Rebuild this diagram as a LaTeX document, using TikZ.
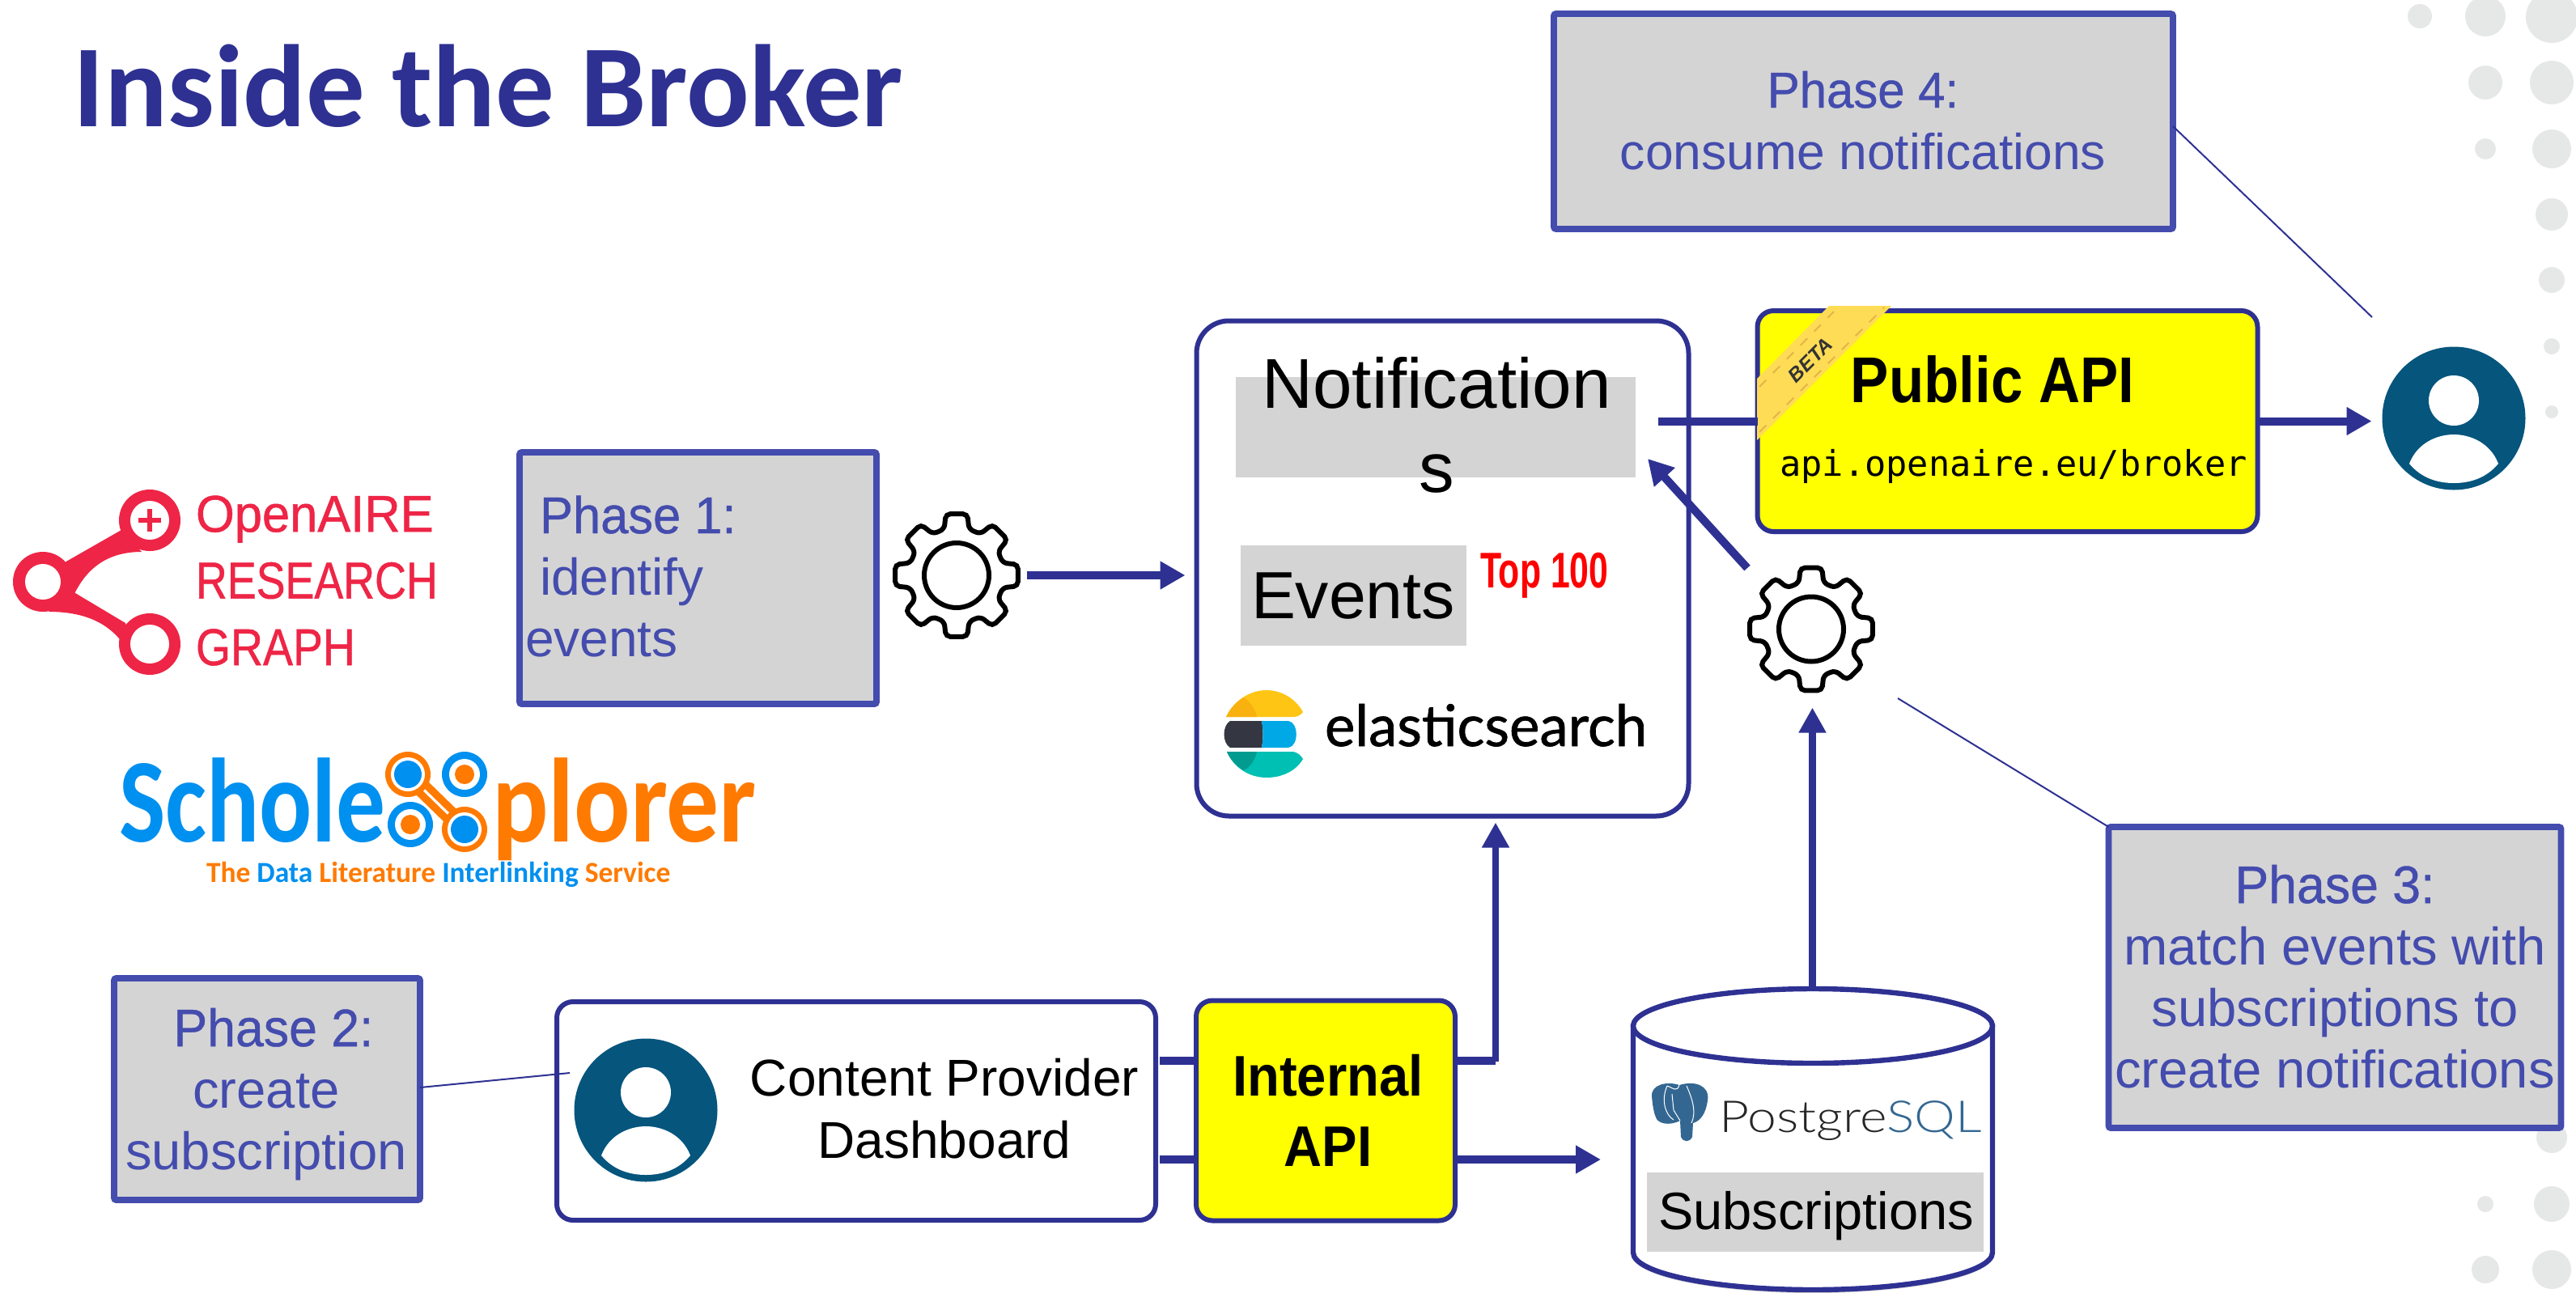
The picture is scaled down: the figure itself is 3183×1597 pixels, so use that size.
\documentclass[tikz,border=0pt]{standalone}
\usepackage{fontspec}
\setmainfont{Liberation Sans}
\newfontfamily\titlefont{Carlito}
\newfontfamily\apimono{DejaVu Sans Mono}
\newfontfamily\elasticfont[FakeBold=1]{Lato}
\newfontfamily\pgsqlfont{Lato Light}
\newfontfamily\phfont[FakeBold=0.7]{Liberation Sans}
\newfontfamily\oafont[FakeBold=0.8]{Liberation Sans}
\newcommand\phead[1]{{\phfont\scalebox{.96}[1]{#1}}}
\usetikzlibrary{arrows.meta,shadows}
\definecolor{navy}{HTML}{2E3192}
\definecolor{phaseblue}{HTML}{444CAE}
\definecolor{boxgray}{HTML}{D4D4D4}
\definecolor{dotgray}{HTML}{E6E8E7}
\definecolor{userblue}{HTML}{05557D}
\definecolor{oared}{HTML}{EE2546}
\definecolor{sxblue}{HTML}{0090F0}
\definecolor{sxorange}{HTML}{FF7A00}
\definecolor{pgblue}{HTML}{336791}
\definecolor{ribbon}{HTML}{FFDC55}
\definecolor{ribbondash}{HTML}{E2B548}
\definecolor{pureyellow}{HTML}{FFFF00}
\definecolor{purered}{HTML}{FF0000}
\definecolor{esyellow}{HTML}{FEC514}
\definecolor{esorange}{HTML}{F9B110}
\definecolor{esdark}{HTML}{343741}
\definecolor{esblue}{HTML}{00A9E5}
\definecolor{esteal}{HTML}{00BFB3}
\definecolor{esdeep}{HTML}{019B8F}
\tikzset{
  pxsize/.style 2 args={minimum width=#1*.25pt,minimum height=#2*.25pt,inner sep=0,outer sep=0},
  phasebox/.style={draw=phaseblue,fill=boxgray,line width=1.9pt,rounded corners=.6pt},
  softshadow/.style={drop shadow={shadow xshift=0pt,shadow yshift=-.7pt,opacity=.3,fill=black}},
  whitebox/.style={draw=navy,fill=white,line width=1.5pt,softshadow},
  yellowbox/.style={draw=navy,fill=pureyellow,line width=1.5pt,rounded corners=5pt,softshadow},
  graybar/.style={fill=boxgray,inner sep=0,outer sep=0},
  txt/.style={inner sep=0,outer sep=0,anchor=base},
  txtl/.style={inner sep=0,outer sep=0,anchor=base west},
  phasetxt/.style={text=phaseblue,font=\fontsize{16.3}{19}\selectfont},
  conn/.style={draw=navy,line width=2.5pt,-{Triangle[length=7.75pt,width=8.25pt]}},
  connthin/.style={draw=navy,line width=2.1pt,-{Triangle[length=7.75pt,width=8pt]}},
  bar/.style={draw=navy,line width=2.5pt},
  leader/.style={draw=navy,line width=.5pt},
  gearline/.style={draw=black,fill=white,line width=1.5pt,rounded corners=1.4pt},
  dot/.style={fill=dotgray}
}
\newcommand\usericon[3]{%
  \node[circle,fill=userblue,pxsize={177}{177}] (#1) at (#2,#3) {};
  \begin{scope}[shift={(#2,#3)}]
    \fill[white] (0,-22) circle[radius=31];
    \fill[white] (-55,56) .. controls (-45,30) and (-20,20) .. (0,20) .. controls (20,20) and (45,30) .. (55,56)
       .. controls (40,74) and (20,80) .. (0,80) .. controls (-20,80) and (-40,74) .. (-55,56) -- cycle;
  \end{scope}}
\newcommand\gearicon[3]{%
  \node[circle,pxsize={158}{158}] (#1) at (#2,#3) {};
  \begin{scope}[shift={(#2,#3)}]
    \draw[gearline] (-15:59) foreach \a in {0,45,...,270} { -- (\a-10:77) -- (\a+10:77) -- (\a+15:59) -- (\a+30:59) }
      -- (305:77) -- (325:77) -- (330:59) -- cycle;
    \draw[black,line width=1.5pt] (0,0) circle[radius=40];
  \end{scope}}
\begin{document}
\begin{tikzpicture}[x=.25pt,y=-.25pt]
\clip (0,0) rectangle (3183,1597);
\fill[white] (0,0) rectangle (3183,1597);
% background dots
\foreach \px/\py/\r in {3153/21/32,3153/102/27,3153/184/24,3153/265/20,3153/346/16,3153/428/10,3153/509/8,
  3071/20/25,3071/102/21,3071/184/13,2990/20/15,
  3153/1406/19,3153/1488/22,3153/1569/24,3071/1488/10,3071/1569/17}
  \fill[dot] (\px,\py) circle[radius=\r];
% title
\node[txtl,text=navy,font=\titlefont\bfseries\fontsize{36.2}{43}\selectfont] (title) at (91,156) {Inside the Broker};
% OpenAIRE logo
\begin{scope}[oared]
  \fill (80,695) -- (150,655) -- (175,682) .. controls (130,682) and (105,705) .. (90,738) -- cycle;
  \fill (88,730) -- (155,770) -- (172,832) .. controls (155,790) and (130,756) .. (60,756) -- cycle;
  \fill (185,643) circle[radius=38];
  \fill (53,719) circle[radius=37];
  \fill (185,796) circle[radius=38];
  \fill[white] (185,643) circle[radius=24];
  \fill[white] (53,719) circle[radius=22];
  \fill[white] (185,796) circle[radius=24];
  \fill (171,640) rectangle (199,646);
  \fill (182,629) rectangle (188,657);
\end{scope}
\node[txtl,align=left,text=oared,font=\oafont\fontsize{16}{20.6}\selectfont] (oatext) at (242,822)
  {\scalebox{.96}[1]{OpenAIRE}\\\scalebox{.84}[1]{RESEARCH}\\\scalebox{.865}[1]{GRAPH}};
% ScholeXplorer logo
\node[txtl,text=sxblue,font=\titlefont\bfseries\fontsize{37}{44}\selectfont] (sxa) at (147,1040) {\scalebox{.82}[1]{Schole}};
\node[txtl,text=sxorange,font=\titlefont\bfseries\fontsize{37}{44}\selectfont] (sxb) at (608,1040) {\scalebox{.875}[1]{plorer}};
\draw[sxorange,line width=5.5pt,line cap=round] (504,957) -- (574,1025);
\draw[white,line width=.8pt] (504,957) -- (574,1025);
\fill[sxorange] (504,957) circle[radius=28];
\fill[white] (504,957) circle[radius=21];
\fill[sxblue] (504,957) circle[radius=17];
\fill[sxorange] (574,1025) circle[radius=28];
\fill[white] (574,1025) circle[radius=21];
\fill[sxblue] (574,1025) circle[radius=17];
\fill[sxblue] (574,957) circle[radius=28];
\fill[white] (574,957) circle[radius=19];
\fill[sxorange] (574,957) circle[radius=12];
\fill[sxblue] (507,1019) circle[radius=28];
\fill[white] (507,1019) circle[radius=19];
\fill[sxorange] (507,1019) circle[radius=12];
\node[txtl,font=\titlefont\bfseries\fontsize{9}{11}\selectfont] (sxtag) at (255,1090)
  {\scalebox{.985}[1]{\textcolor{sxorange}{The }\textcolor{sxblue}{Data }\textcolor{sxorange}{Literature }\textcolor{sxblue}{Interlinking }\textcolor{sxorange}{Service}}};
% phase boxes
\node[phasebox,pxsize={441}{311}] (p1) at (862.5,714.5) {};
\node[txtl,align=left,phasetxt,font=\fontsize{16}{19}\selectfont] (p1t) at (649,811) {\hspace*{4.5pt}\phead{Phase 1:}\\\hspace*{4.5pt}identify\\events};
\node[phasebox,pxsize={378}{274}] (p2) at (330,1346) {};
\node[txt,align=center,phasetxt] (p2t) at (329,1445) {\hspace*{4.5pt}\phead{Phase 2:}\\create\\subscription};
\node[phasebox,pxsize={559}{372}] (p3) at (2885,1208) {};
\node[txt,align=center,phasetxt] (p3t) at (2885,1344) {\phead{Phase 3:}\\match events with\\subscriptions to\\create notifications};
\node[phasebox,pxsize={765}{266}] (p4) at (2302.5,150) {};
\node[txt,align=center,phasetxt,font=\fontsize{15.6}{19}\selectfont] (p4t) at (2302,209) {\phead{Phase 4:}\\consume notifications};
% notifications container
\node[whitebox,rounded corners=10pt,pxsize={608}{612}] (store) at (1782.5,702.5) {};
\node[graybar,pxsize={494}{124}] (ngray) at (1774,528) {};
\node[txt,align=center,font=\fontsize{21.8}{26}\selectfont] (ntext) at (1775,608) {Notification\\s};
\node[graybar,pxsize={279}{124}] (egray) at (1672.5,736) {};
\node[txtl,font=\fontsize{20.6}{25}\selectfont] (etext) at (1546,764) {Events};
\node[txtl,text=purered,font=\bfseries\fontsize{15.5}{18}\selectfont] (top) at (1829,726) {\scalebox{.69}[1]{Top 100}};
% elasticsearch logo
\fill[esyellow] (1515,886) .. controls (1525,865) and (1545,853) .. (1565,853) .. controls (1585,853) and (1602,865) .. (1610,880) .. controls (1607,884) and (1603,886) .. (1598,886) -- cycle;
\fill[esorange] (1515,886) .. controls (1520,875) and (1528,867) .. (1537,862) .. controls (1546,868) and (1551,877) .. (1553,886) -- cycle;
\fill[esdark] (1520,891) -- (1559,891) .. controls (1561,901) and (1561,914) .. (1559,924) -- (1520,924) .. controls (1510,918) and (1510,897) .. (1520,891) -- cycle;
\fill[esblue] (1559,891) -- (1592,891) .. controls (1605,893) and (1605,922) .. (1592,924) -- (1559,924) .. controls (1561,914) and (1561,901) .. (1559,891) -- cycle;
\fill[esteal] (1516,929) -- (1598,929) .. controls (1603,930) and (1607,933) .. (1610,938) .. controls (1602,952) and (1585,961) .. (1565,961) .. controls (1545,961) and (1525,950) .. (1516,929) -- cycle;
\fill[esdeep] (1516,929) -- (1553,929) .. controls (1551,938) and (1546,947) .. (1537,952) .. controls (1528,947) and (1520,939) .. (1516,929) -- cycle;
\node[txtl,font=\elasticfont\fontsize{17.7}{21}\selectfont] (elastic) at (1637,922) {elasticsearch};
% public API
\node[yellowbox,pxsize={618}{273}] (pub) at (2480.5,520.5) {};
\fill[ribbon] (2171,468) -- (2260,378) -- (2337,378) -- (2171,544) -- cycle;
\draw[ribbondash,line width=.5pt,dashed] (2174,478) -- (2266,385);
\draw[ribbondash,line width=.5pt,dashed] (2174,534) -- (2328,380);
\node[txt,rotate=45,anchor=center,text=black!80,font=\bfseries\itshape\fontsize{6.2}{7}\selectfont] (beta) at (2237,445) {BETA};
\node[txt,font=\bfseries\fontsize{20}{24}\selectfont] (pubt) at (2462,497) {\scalebox{.885}[1]{Public API}};
\node[txt,font=\apimono\fontsize{10.9}{13}\selectfont] (pubu) at (2488,588) {api.openaire.eu/broker};
% dashboard, internal API
\node[whitebox,rounded corners=5pt,pxsize={740}{270}] (dash) at (1058,1373) {};
\node[txt,align=center,font=\fontsize{16}{19.25}\selectfont] (dasht) at (1167,1431) {Content Provider\\Dashboard};
\usericon{userl}{798}{1372}
\node[yellowbox,pxsize={320}{272}] (int) at (1638,1372.5) {};
\node[txt,align=center,font=\bfseries\fontsize{17.7}{21.75}\selectfont] (intt) at (1641,1441) {\scalebox{.92}[1]{Internal}\\\scalebox{.92}[1]{API}};
% database
\fill[black,opacity=.2] (2018,1270) -- (2018,1552) arc[start angle=180,end angle=0,x radius=222,y radius=46] -- (2462,1270) -- cycle;
\node[pxsize={447}{376}] (cyl) at (2239.5,1408) {};
\draw[navy,fill=white,line width=1.6pt] (2018,1268) -- (2018,1548) arc[start angle=180,end angle=0,x radius=222,y radius=46] -- (2462,1268) -- cycle;
\draw[navy,fill=white,line width=1.6pt] (2240,1268) ellipse[x radius=222,y radius=46];
% elephant
\fill[pgblue] (2041,1355) .. controls (2040,1340) and (2060,1336) .. (2075,1341) .. controls (2095,1335) and (2113,1342) .. (2110,1360) .. controls (2108,1375) and (2102,1385) .. (2092,1388) -- (2091,1405) .. controls (2088,1412) and (2080,1412) .. (2077,1405) -- (2076,1385) .. controls (2062,1392) and (2050,1388) .. (2047,1383) .. controls (2043,1375) and (2042,1365) .. (2041,1355) -- cycle;
\draw[white,line width=.25pt] (2060,1342) .. controls (2052,1360) and (2058,1378) .. (2068,1384);
\draw[white,line width=.25pt] (2060,1342) .. controls (2068,1345) and (2072,1350) .. (2075,1341);
\draw[white,line width=.25pt] (2084,1342) .. controls (2092,1360) and (2096,1375) .. (2090,1388);
\draw[white,line width=.25pt] (2066,1352) -- (2068,1372) -- (2076,1385);
\node[txtl,font=\pgsqlfont\fontsize{13.6}{16}\selectfont] (pgsql) at (2124,1399) {\scalebox{1.18}[1]{\textcolor{black!85}{Postgre}\textcolor{pgblue}{SQL}}};
\node[graybar,pxsize={416}{98}] (sgray) at (2243,1498) {};
\node[txtl,font=\fontsize{16.25}{20}\selectfont] (stext) at (2049,1519) {Subscriptions};
% gears and right-hand user
\gearicon{gearl}{1182}{711}
\gearicon{gearr}{2238}{777.5}
\usericon{userr}{3032}{517}
% named free ends
\coordinate (nout) at (2049,521);
\coordinate (ntip) at (2036,567);
\coordinate (ntail) at (2159,702);
\coordinate (itop) at (1848,1311);
\coordinate (ibot) at (1800,1433);
\coordinate (l4a) at (2688,156);
\coordinate (l4b) at (2931,392);
\coordinate (l3b) at (2345,863);
\coordinate (l2a) at (522,1344);
\coordinate (l2b) at (704,1326);
% connectors
\draw[conn,shorten <=2pt,shorten >=3.5pt] (gearl.east) -- (gearl.east -| store.west);
\draw[bar] (nout) -- (nout -| pub.west);
\draw[conn,shorten >=3.25pt] (pub.east) -- (pub.east -| userr.west);
\draw[conn] (ntail) -- (ntip);
\draw[connthin,shorten >=4.5pt] (cyl.north) -- (cyl.north |- gearr.south);
\draw[bar] (int.east |- itop) -- (itop);
\draw[connthin,shorten >=2pt] (itop) ++(0,1.2) -- (itop |- store.south);
\draw[conn,shorten >=9.5pt] (ibot) -- (ibot -| cyl.west);
\draw[bar,shorten <=1.2pt] (dash.east |- itop) -- (int.west |- itop);
\draw[bar,shorten <=1.2pt] (dash.east |- ibot) -- (int.west |- ibot);
\draw[leader] (p4.east |- l4a) -- (l4b);
\draw[leader] (p3.north west) -- (l3b);
\draw[leader] (p2.east |- l2a) -- (l2b);
\end{tikzpicture}
\end{document}
